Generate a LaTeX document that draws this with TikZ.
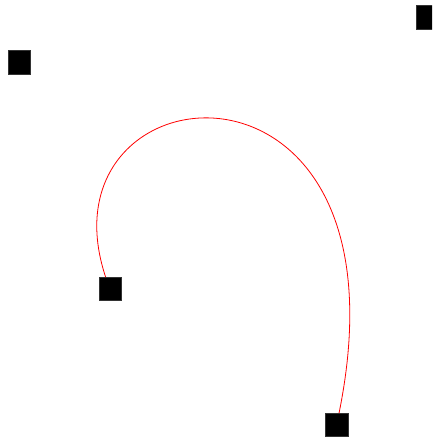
\documentclass[tikz,border=0pt]{standalone}
\begin{document}
\begin{tikzpicture}[x=1pt,y=-1pt,
  sq/.style={fill=black,draw=black!80,line width=0.5pt,minimum width=22.5pt,minimum height=23.3pt,inner sep=0pt,outer sep=0pt}]
\useasboundingbox (0,0) rectangle (432,437);
\begin{scope}
\clip (0,0) rectangle (432,437);
\coordinate (s) at (110,289);
\coordinate (e) at (336.5,425);
\coordinate (c1) at (19.3,62.3);
\coordinate (c2) at (427.3,17.3);
\draw[red,line width=0.8pt] (s) .. controls (c1) and (c2) .. (e);
\node[sq] (a) at (s) {};
\node[sq] (b) at (e) {};
\node[sq] (c) at (c1) {};
\node[sq] (d) at (c2) {};
\end{scope}
\end{tikzpicture}
\end{document}
